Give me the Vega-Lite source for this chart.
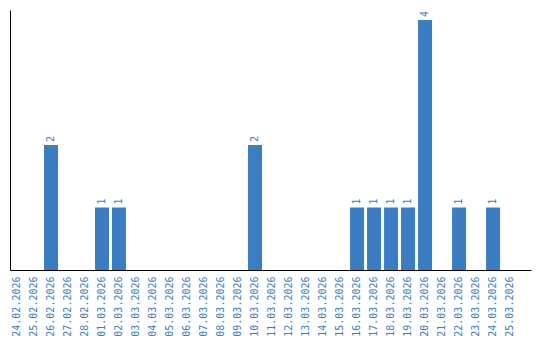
{
  "$schema": "https://vega.github.io/schema/vega-lite/v6.json",
  "autosize": {"type": "none"},
  "padding": {"left": 10, "top": 10, "right": 9, "bottom": 70},
  "width": 521,
  "height": 260,
  "background": "white",
  "config": {
    "view": {"stroke": null},
    "font": "DejaVu Sans Mono"
  },
  "data": {
    "values": [
      {"date": "24.02.2026", "n": 0},
      {"date": "25.02.2026", "n": 0},
      {"date": "26.02.2026", "n": 2},
      {"date": "27.02.2026", "n": 0},
      {"date": "28.02.2026", "n": 0},
      {"date": "01.03.2026", "n": 1},
      {"date": "02.03.2026", "n": 1},
      {"date": "03.03.2026", "n": 0},
      {"date": "04.03.2026", "n": 0},
      {"date": "05.03.2026", "n": 0},
      {"date": "06.03.2026", "n": 0},
      {"date": "07.03.2026", "n": 0},
      {"date": "08.03.2026", "n": 0},
      {"date": "09.03.2026", "n": 0},
      {"date": "10.03.2026", "n": 2},
      {"date": "11.03.2026", "n": 0},
      {"date": "12.03.2026", "n": 0},
      {"date": "13.03.2026", "n": 0},
      {"date": "14.03.2026", "n": 0},
      {"date": "15.03.2026", "n": 0},
      {"date": "16.03.2026", "n": 1},
      {"date": "17.03.2026", "n": 1},
      {"date": "18.03.2026", "n": 1},
      {"date": "19.03.2026", "n": 1},
      {"date": "20.03.2026", "n": 4},
      {"date": "21.03.2026", "n": 0},
      {"date": "22.03.2026", "n": 1},
      {"date": "23.03.2026", "n": 0},
      {"date": "24.03.2026", "n": 1},
      {"date": "25.03.2026", "n": 0}
    ]
  },
  "encoding": {
    "x": {
      "field": "date",
      "type": "ordinal",
      "sort": null,
      "scale": {"paddingInner": 0.176, "paddingOuter": 0.41, "align": 0},
      "axis": {
        "title": null,
        "labelAngle": 270,
        "labelAlign": "right",
        "labelBaseline": "middle",
        "labelFont": "DejaVu Sans Mono",
        "labelFontSize": 10,
        "labelColor": "#3b7dc3",
        "labelPadding": 6,
        "ticks": false,
        "domainColor": "#000000",
        "domainWidth": 1,
        "grid": false
      }
    },
    "y": {
      "field": "n",
      "type": "quantitative",
      "scale": {"domain": [0, 4.16], "nice": false, "zero": true},
      "axis": {
        "title": null,
        "labels": false,
        "ticks": false,
        "grid": false,
        "domainColor": "#000000",
        "domainWidth": 1
      }
    }
  },
  "layer": [
    {
      "mark": {"type": "bar", "color": "#3b7dc3"}
    },
    {
      "transform": [{"filter": "datum.n > 0"}],
      "mark": {
        "type": "text",
        "angle": 270,
        "align": "left",
        "baseline": "middle",
        "dx": 3,
        "font": "DejaVu Sans Mono",
        "fontSize": 10,
        "fill": "#3b7dc3"
      },
      "encoding": {"text": {"field": "n", "type": "quantitative"}}
    }
  ]
}
